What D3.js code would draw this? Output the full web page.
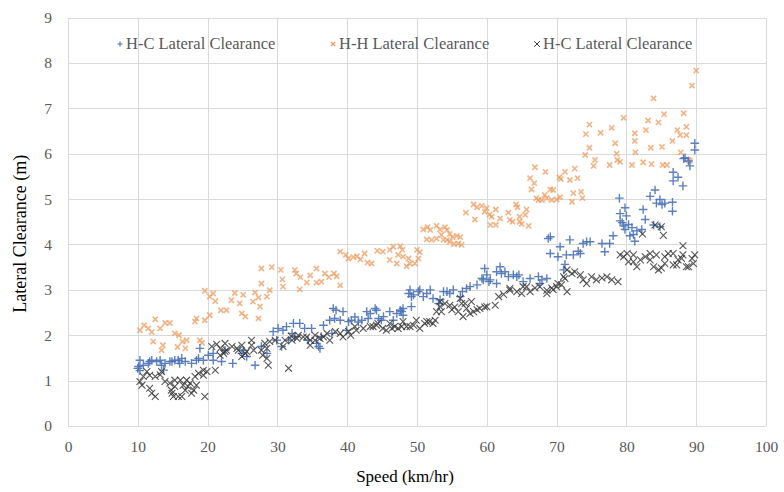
<!DOCTYPE html>
<html>
<head>
<meta charset="utf-8">
<script src="https://cdn.jsdelivr.net/npm/d3@7"></script>
<style>
  html, body { margin: 0; padding: 0; background: #fff; }
  svg { display: block; }
</style>
</head>
<body>
<svg id="chart" width="784" height="492"></svg>
<script>
// Speed (km/hr) vs lateral clearance (m), three observed series
const seriesNames = ["H-C Lateral Clearance", "H-H Lateral Clearance", "H-C Lateral Clearance"];

const hcPlus = [
  [10.0,1.27],[10.1,1.31],[10.3,1.22],[10.3,1.45],[10.8,1.34],[11.5,1.38],[11.7,1.42],[12.0,1.45],[12.7,1.42],
  [13.2,1.45],[13.4,1.34],[13.7,1.23],[13.9,1.38],[14.6,1.42],[14.9,1.42],[15.3,1.45],[15.8,1.45],[16.0,1.38],
  [16.3,1.49],[16.8,1.42],[17.7,1.38],[18.4,1.45],[18.7,1.49],[18.9,1.71],[19.4,1.45],[20.1,1.56],[20.8,1.45],
  [20.8,1.60],[22.0,1.42],[22.5,1.67],[23.6,1.38],[24.9,1.60],[25.1,1.67],[25.6,1.53],[26.8,1.34],[27.7,1.75],
  [28.5,1.60],[29.4,2.08],[29.9,1.89],[30.1,2.15],[30.6,1.75],[30.8,2.11],[31.3,2.19],[31.6,1.89],[32.1,2.04],
  [32.3,2.26],[32.5,1.97],[33.2,2.26],[33.9,2.15],[34.4,1.89],[34.9,2.15],[35.6,1.82],[35.9,1.75],[36.1,1.71],
  [36.3,1.97],[36.6,2.22],[37.5,2.33],[37.8,2.04],[38.0,2.59],[38.4,2.55],[38.2,2.37],[39.0,2.33],[39.4,2.52],
  [39.9,2.11],[40.2,2.30],[40.6,2.33],[41.1,2.40],[41.6,2.29],[42.1,2.33],[42.8,2.52],[43.0,2.37],[43.3,2.48],
  [44.0,2.59],[44.2,2.55],[44.5,2.37],[44.9,2.33],[45.2,2.41],[46.1,2.52],[46.6,2.33],[47.1,2.48],[47.6,2.55],
  [47.8,2.52],[48.0,2.44],[48.0,2.59],[48.8,2.92],[49.0,3.00],[49.2,2.85],[49.2,2.63],[49.5,2.89],[50.2,2.96],
  [50.4,3.00],[50.9,2.85],[51.4,2.92],[51.9,3.00],[52.3,2.81],[53.1,2.70],[53.3,2.78],[53.8,2.96],[54.3,2.96],
  [54.7,2.92],[55.2,3.00],[56.2,2.85],[56.5,2.96],[57.1,3.03],[57.6,3.07],[58.6,3.11],[59.3,3.25],[59.5,3.22],
  [59.7,3.47],[60.0,3.33],[60.3,3.18],[60.5,3.22],[61.4,3.40],[61.4,3.14],[61.9,3.51],[62.1,3.36],[62.6,3.40],
  [63.1,3.29],[63.8,3.33],[64.3,3.29],[64.6,3.33],[65.2,3.18],[66.2,3.25],[67.4,3.29],[67.6,3.14],[67.9,3.22],
  [68.6,3.25],[68.8,4.13],[69.1,3.80],[69.1,4.17],[70.2,3.73],[70.5,3.95],[71.2,3.56],[71.0,3.44],[71.4,3.77],
  [71.9,4.10],[72.4,3.77],[73.1,3.85],[73.4,3.80],[73.8,4.02],[74.3,4.06],[74.8,4.06],[76.5,4.02],[76.9,3.84],
  [77.6,4.02],[78.1,4.19],[79.0,5.02],[79.1,4.68],[79.1,4.52],[79.4,4.48],[79.6,4.41],[79.8,4.81],[79.8,4.33],
  [80.0,4.63],[80.3,4.44],[80.5,4.19],[80.8,4.37],[81.0,4.22],[81.2,4.07],[81.5,4.30],[82.2,4.33],[82.4,4.77],
  [82.7,4.55],[83.4,5.06],[83.9,4.43],[84.1,5.20],[84.3,4.91],[84.8,4.99],[84.8,4.39],[85.1,4.88],[85.5,4.91],
  [86.6,4.93],[86.6,4.73],[86.7,5.59],[86.7,5.40],[87.4,5.48],[88.1,5.29],[88.2,5.89],[88.4,5.91],[88.9,5.84],
  [89.1,5.73],[89.8,6.23],[89.8,6.08]
];

const hhCross = [
  [10.3,2.11],[10.9,2.22],[11.5,2.15],[12.0,2.07],[12.2,1.86],[12.5,2.35],[13.2,2.15],[13.4,1.67],[13.6,1.78],
  [13.9,2.27],[14.6,2.27],[15.3,2.04],[15.7,1.74],[15.9,2.00],[16.4,1.86],[16.8,1.71],[17.0,1.89],[18.2,2.30],
  [18.4,2.37],[18.9,1.89],[19.2,1.83],[19.6,2.33],[19.6,2.98],[20.3,2.44],[20.3,2.85],[20.8,2.92],[21.1,2.75],
  [21.9,2.55],[22.7,2.55],[23.4,2.77],[23.9,2.93],[24.6,2.70],[24.9,2.48],[25.1,2.89],[25.4,2.41],[26.5,2.74],
  [26.8,2.94],[27.3,2.83],[27.3,2.37],[27.5,2.63],[27.7,3.47],[27.7,3.14],[28.5,2.85],[28.9,2.99],[29.2,3.50],
  [30.5,3.44],[30.7,3.23],[30.8,3.07],[32.5,3.44],[32.7,3.36],[33.2,3.01],[33.3,3.28],[34.2,3.16],[34.7,3.32],
  [35.6,3.47],[35.6,3.16],[36.3,3.18],[36.8,3.36],[37.4,3.28],[38.1,3.36],[38.5,3.30],[39.0,3.10],[39.0,3.84],
  [39.8,3.77],[40.2,3.69],[40.9,3.72],[41.4,3.74],[41.9,3.67],[42.5,3.80],[42.9,3.60],[43.5,3.58],[44.3,3.86],
  [45.1,3.84],[46.1,3.88],[46.1,3.66],[46.6,3.95],[47.1,3.58],[47.3,3.77],[47.6,3.96],[47.9,3.88],[48.0,3.73],
  [48.5,3.52],[48.8,3.69],[49.0,3.58],[49.7,3.58],[50.0,3.88],[50.2,3.69],[50.4,3.83],[50.9,4.33],[51.4,4.11],
  [51.5,4.38],[51.9,4.32],[52.1,4.10],[52.8,4.41],[52.8,4.13],[53.3,4.33],[53.5,4.21],[53.8,4.10],[54.0,4.38],
  [54.3,4.32],[54.3,4.10],[54.7,4.23],[54.7,4.06],[55.1,4.16],[55.3,4.01],[55.7,4.19],[55.9,4.02],[56.2,4.16],
  [56.4,3.99],[57.0,4.70],[58.1,4.88],[58.3,4.55],[58.6,4.82],[59.3,4.85],[59.7,4.72],[60.0,4.80],[60.4,4.66],
  [60.5,4.43],[60.7,4.61],[61.3,4.77],[61.3,4.43],[61.9,4.57],[63.1,4.70],[63.3,4.54],[63.7,4.50],[64.2,4.88],
  [64.4,4.82],[64.7,4.61],[64.7,4.50],[65.0,4.45],[65.5,4.65],[65.7,4.77],[66.0,4.41],[66.2,5.46],[66.4,5.21],
  [66.8,5.35],[66.9,5.70],[67.1,5.02],[67.4,4.98],[67.9,4.98],[68.3,5.09],[68.4,5.60],[68.6,5.02],[69.1,5.21],
  [69.3,4.98],[69.5,5.20],[70.0,4.99],[70.4,5.48],[70.5,5.04],[70.6,5.44],[71.2,5.60],[71.9,5.42],[72.2,4.94],
  [72.4,5.13],[72.6,5.67],[73.0,5.46],[73.5,5.16],[73.7,5.02],[74.1,5.97],[74.2,6.43],[74.7,6.64],[74.7,6.13],
  [75.3,5.73],[75.5,5.86],[76.3,6.46],[77.6,5.75],[77.9,6.57],[78.4,6.23],[78.6,6.00],[78.7,5.86],[79.1,5.82],
  [79.6,6.79],[80.8,5.75],[81.2,6.45],[81.2,6.28],[81.3,6.03],[82.4,5.81],[82.8,6.52],[83.1,6.73],[83.5,6.13],
  [83.6,5.77],[83.9,7.22],[84.6,6.69],[85.1,6.15],[85.2,5.75],[85.4,6.87],[85.8,5.75],[86.6,6.28],[87.3,6.52],
  [87.7,6.41],[87.8,6.03],[88.2,6.89],[88.6,6.41],[88.6,6.59],[88.9,5.86],[89.1,5.84],[89.4,7.50],[90.0,7.83]
];

const hcCross = [
  [10.3,0.98],[10.6,0.90],[10.8,1.09],[11.3,1.20],[11.7,1.12],[11.7,0.83],[12.0,0.72],[12.5,0.65],[12.5,1.09],
  [13.2,1.13],[13.4,1.20],[13.9,0.98],[14.6,0.94],[14.8,0.79],[14.9,0.72],[15.1,0.65],[15.3,1.01],[15.3,0.87],
  [15.8,0.65],[16.1,1.01],[16.3,0.65],[16.5,0.90],[16.8,0.79],[17.0,1.01],[17.2,0.87],[17.5,0.94],[17.7,0.72],
  [18.0,0.79],[18.2,1.09],[18.4,0.90],[18.7,1.16],[19.4,1.12],[19.4,1.23],[19.6,0.65],[19.9,1.20],[20.6,1.75],
  [21.1,1.23],[21.3,1.80],[21.8,1.71],[21.8,1.56],[22.3,1.60],[22.5,1.64],[22.5,1.82],[22.7,1.67],[23.5,1.75],
  [24.2,1.71],[24.4,1.67],[24.9,1.53],[24.9,1.78],[25.4,1.60],[25.6,1.64],[26.3,1.78],[26.3,1.89],[26.6,1.67],
  [27.7,1.67],[27.9,1.56],[28.2,1.82],[28.5,1.71],[28.5,1.49],[28.7,1.34],[28.9,1.86],[29.7,1.89],[30.8,1.75],
  [31.1,1.89],[31.6,1.27],[32.0,1.98],[32.1,1.89],[32.8,1.93],[33.0,2.00],[33.7,1.96],[34.2,1.96],[34.7,1.78],
  [34.7,1.89],[35.4,1.89],[35.4,2.00],[36.1,1.93],[36.6,1.96],[37.1,2.04],[37.5,1.89],[38.3,2.08],[39.0,2.04],
  [39.4,1.96],[40.2,2.08],[40.5,2.00],[41.1,2.19],[41.3,2.11],[42.3,2.15],[43.3,2.19],[43.7,2.19],[44.2,2.22],
  [44.4,2.26],[45.1,2.15],[45.6,2.11],[46.1,2.26],[46.4,2.15],[46.8,2.19],[47.3,2.15],[47.8,2.19],[48.0,2.30],
  [48.5,2.19],[49.0,2.19],[49.5,2.22],[49.9,2.33],[50.4,2.15],[51.1,2.26],[51.4,2.30],[51.8,2.30],[52.3,2.26],
  [52.6,2.33],[52.8,2.52],[53.3,2.63],[53.3,2.74],[53.5,2.52],[54.0,2.70],[54.7,2.66],[55.0,2.56],[55.4,2.62],
  [55.9,2.52],[56.2,2.81],[56.4,2.70],[56.6,2.41],[56.9,2.70],[57.1,2.59],[57.6,2.48],[57.8,2.74],[58.1,2.52],
  [58.6,2.56],[59.0,2.59],[59.7,2.62],[60.0,2.63],[61.2,2.66],[61.7,2.85],[62.4,2.90],[63.3,2.99],[63.3,3.03],
  [64.3,2.96],[65.0,2.92],[65.2,3.07],[65.7,3.07],[66.2,2.96],[66.9,3.04],[67.6,3.07],[68.6,2.99],[68.6,2.92],
  [69.3,3.04],[69.5,3.00],[70.0,3.07],[70.2,3.14],[70.7,3.11],[71.0,3.29],[71.2,3.25],[71.5,3.44],[71.5,2.96],
  [72.2,3.36],[72.6,3.40],[73.4,3.33],[73.8,3.22],[74.3,3.14],[75.0,3.29],[75.7,3.22],[76.5,3.26],[77.2,3.29],
  [77.9,3.22],[78.8,3.18],[79.1,3.77],[79.6,3.73],[80.1,3.80],[80.3,3.62],[81.0,3.62],[81.0,3.77],[81.5,3.51],
  [82.0,3.66],[82.3,4.23],[82.7,3.73],[83.4,3.80],[83.4,3.66],[83.9,3.51],[84.1,4.43],[84.3,3.77],[84.6,3.44],
  [85.0,3.48],[85.0,4.39],[85.3,4.20],[85.5,3.73],[85.5,3.58],[86.0,3.80],[86.7,3.55],[86.7,3.80],[87.2,3.55],
  [87.4,3.66],[87.9,3.69],[88.1,3.77],[88.1,3.97],[88.6,3.51],[88.9,3.51],[89.4,3.69],[89.6,3.58],[89.8,3.77]
];

const xTicks = [0, 10, 20, 30, 40, 50, 60, 70, 80, 90, 100];
const yTicks = [0, 1, 2, 3, 4, 5, 6, 7, 8, 9];
const xTitle = "Speed (km/hr)";
const yTitle = "Lateral Clearance (m)";

const FONT = "'Liberation Serif', 'Times New Roman', serif";

const svg = d3.select("#chart");
const plot = { left: 68, right: 766, top: 17.5, bottom: 426 };

const x = d3.scaleLinear().domain([0, 100]).range([plot.left, plot.right]);
const y = d3.scaleLinear().domain([0, 9]).range([plot.bottom, plot.top]);

const gridColor = "#d9d9d9";
const labelColor = "#595959";

// gridlines
svg.append("g")
  .attr("transform", `translate(0,${plot.bottom})`)
  .call(d3.axisBottom(x).tickValues(xTicks).tickSize(-(plot.bottom - plot.top)).tickFormat(""))
  .call(g => g.select(".domain").remove())
  .call(g => g.selectAll("line").attr("stroke", gridColor).attr("stroke-width", 1).attr("shape-rendering", "crispEdges"));

svg.append("g")
  .attr("transform", `translate(${plot.left},0)`)
  .call(d3.axisLeft(y).tickValues(yTicks).tickSize(-(plot.right - plot.left)).tickFormat(""))
  .call(g => g.select(".domain").remove())
  .call(g => g.selectAll("line").attr("stroke", gridColor).attr("stroke-width", 1).attr("shape-rendering", "crispEdges"));

// tick labels
svg.append("g")
  .attr("transform", `translate(0,${plot.bottom})`)
  .call(d3.axisBottom(x).tickValues(xTicks).tickSize(0).tickPadding(15))
  .call(g => g.select(".domain").remove())
  .call(g => g.attr("font-family", FONT).attr("font-size", 15.5))
  .call(g => g.selectAll("text").attr("fill", labelColor)
    .style("font-size", "15.5px").style("font-family", FONT));

svg.append("g")
  .attr("transform", `translate(${plot.left},0)`)
  .call(d3.axisLeft(y).tickValues(yTicks).tickSize(0).tickPadding(16))
  .call(g => g.select(".domain").remove())
  .call(g => g.attr("font-family", FONT).attr("font-size", 15.5))
  .call(g => g.selectAll("text").attr("fill", labelColor)
    .style("font-size", "15.5px").style("font-family", FONT));

// axis titles
svg.append("text")
  .attr("x", (plot.left + plot.right) / 2 - 12)
  .attr("y", 482)
  .attr("text-anchor", "middle")
  .style("font-size", "17px").style("font-family", FONT)
  .attr("fill", "#000")
  .text(xTitle);

svg.append("text")
  .attr("transform", `translate(26,${(plot.top + plot.bottom) / 2 + 12}) rotate(-90)`)
  .attr("text-anchor", "middle")
  .style("font-size", "18px").style("font-family", FONT)
  .attr("fill", "#000")
  .text(yTitle);

// marker shapes
const plusPath = s => `M${-s},0H${s}M0,${-s}V${s}`;
const crossPath = s => `M${-s},${-s}L${s},${s}M${-s},${s}L${s},${-s}`;

const series = [
  { data: hhCross, path: crossPath(2.6), color: "#ee9a5c", width: 1.6, opacity: 0.75 },
  { data: hcPlus, path: plusPath(4.3), color: "#4a72b8", width: 1.4, opacity: 0.9 },
  { data: hcCross, path: crossPath(3.4), color: "#3a3a3a", width: 1.1, opacity: 0.85 }
];

series.forEach(s => {
  svg.append("g")
    .selectAll("path")
    .data(s.data)
    .join("path")
    .attr("transform", d => `translate(${x(d[0])},${y(d[1])})`)
    .attr("d", s.path)
    .attr("fill", "none")
    .attr("stroke", s.color)
    .attr("stroke-width", s.width)
    .attr("stroke-opacity", s.opacity);
});

// legend
const legendItems = [
  { label: seriesNames[0], path: plusPath(2.6), color: "#4a72b8", width: 1.1, x: 120 },
  { label: seriesNames[1], path: crossPath(2), color: "#ee9a5c", width: 1.2, x: 333 },
  { label: seriesNames[2], path: crossPath(2.8), color: "#3a3a3a", width: 1.0, x: 537 }
];
const legend = svg.append("g");
legendItems.forEach(item => {
  legend.append("path")
    .attr("transform", `translate(${item.x},44)`)
    .attr("d", item.path)
    .attr("fill", "none")
    .attr("stroke", item.color)
    .attr("stroke-width", item.width);
  legend.append("text")
    .attr("x", item.x + 6)
    .attr("y", 49)
    .style("font-size", "16.5px").style("font-family", FONT)
    .attr("fill", labelColor)
    .text(item.label);
});
</script>
</body>
</html>
